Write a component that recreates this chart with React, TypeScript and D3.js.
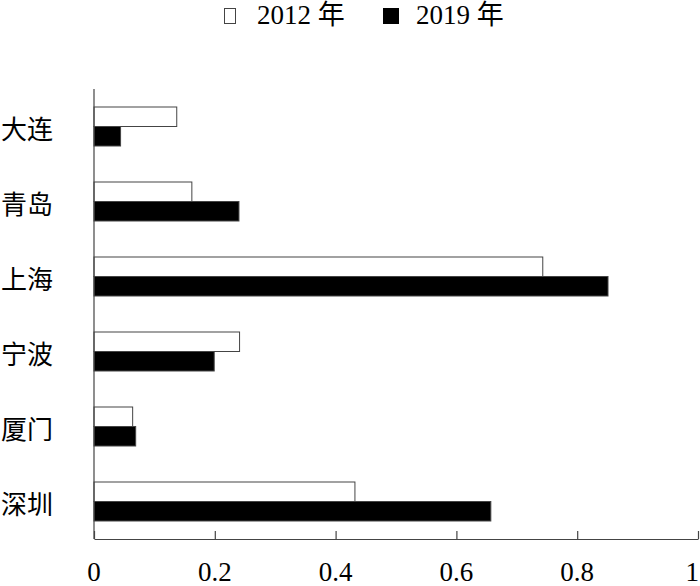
import React, { useEffect, useRef } from "react";
import * as d3 from "d3";

// chart data
const cities = ["大连", "青岛", "上海", "宁波", "厦门", "深圳"];
const seriesNames = ["2012 年", "2019 年"];
const values2012 = [0.137, 0.162, 0.743, 0.241, 0.064, 0.432];
const values2019 = [0.044, 0.240, 0.851, 0.199, 0.069, 0.657];
const xTicks = [0, 0.2, 0.4, 0.6, 0.8, 1];

const width = 700;
const height = 586;
const marginTop = 89;
const marginBottom = 47; // axis at 539
const marginLeft = 94;
const marginRight = 2;
const font = "'Liberation Serif', 'Noto Sans CJK SC', serif";

function App() {
  const ref = useRef<SVGSVGElement>(null);

  useEffect(() => {
    document.body.style.margin = "0";
    const svg = d3.select(ref.current);
    svg.selectAll("*").remove();

    const x = d3.scaleLinear([0, 1], [marginLeft, width - marginRight]);
    const y = d3.scaleBand<string>()
      .domain(cities)
      .range([marginTop, height - marginBottom])
      .paddingInner(0.48)
      .paddingOuter(0.24);
    const ySub = d3.scaleBand<string>()
      .domain(seriesNames)
      .range([0, y.bandwidth()]);

    const rows = cities.map((c, i) => ({ city: c, v: [values2012[i], values2019[i]] }));
    const fills = ["#fff", "#000"];

    // bars
    const g = svg.append("g");
    rows.forEach(r => {
      seriesNames.forEach((s, j) => {
        g.append("rect")
          .attr("x", x(0))
          .attr("y", y(r.city)! + ySub(s)!)
          .attr("width", x(r.v[j]) - x(0))
          .attr("height", ySub.bandwidth())
          .attr("fill", fills[j])
          .attr("stroke", "#444")
          .attr("stroke-width", 1);
      });
    });

    // x axis, ticks pointing up
    const axisY = height - marginBottom;
    svg.append("g")
      .attr("transform", `translate(0,${axisY})`)
      .call(d3.axisTop(x).tickValues(xTicks).tickSize(8).tickSizeOuter(0).tickFormat(() => ""))
      .call(g => g.selectAll("line,path").attr("stroke", "#444").attr("stroke-width", 1.2));

    svg.append("g")
      .selectAll("text")
      .data(xTicks)
      .join("text")
      .attr("x", d => x(d))
      .attr("y", 581)
      .attr("text-anchor", d => (d === 1 ? "end" : "middle"))
      .attr("dx", d => (d === 1 ? 1 : 0))
      .attr("font-family", font)
      .attr("font-size", 27)
      .text(d => d3.format("~g")(d));

    // y axis line
    svg.append("line")
      .attr("x1", marginLeft)
      .attr("x2", marginLeft)
      .attr("y1", marginTop)
      .attr("y2", axisY)
      .attr("stroke", "#444")
      .attr("stroke-width", 1.2);

    // category labels
    svg.append("g")
      .selectAll("text")
      .data(cities)
      .join("text")
      .attr("x", 1)
      .attr("y", d => y(d)! + y.bandwidth() / 2 + 4)
      .attr("dominant-baseline", "central")
      .attr("font-family", font)
      .attr("font-size", 26)
      .text(d => d);

    // legend
    const legend = svg.append("g");
    const legendX = [224, 383];
    seriesNames.forEach((s, j) => {
      legend.append("rect")
        .attr("x", legendX[j] + 0.5)
        .attr("y", 8.5)
        .attr("width", j === 0 ? 11 : 15)
        .attr("height", 15)
        .attr("fill", fills[j])
        .attr("stroke", j === 0 ? "#444" : "#000")
        .attr("stroke-width", 1);
      legend.append("text")
        .attr("x", legendX[j] + 33)
        .attr("y", 24)
        .attr("font-family", font)
        .attr("font-size", 27)
        .text(s);
    });
  }, []);

  return <svg ref={ref} width={width} height={height} style={{ display: "block", background: "#fff" }} />;
}

export default App;
